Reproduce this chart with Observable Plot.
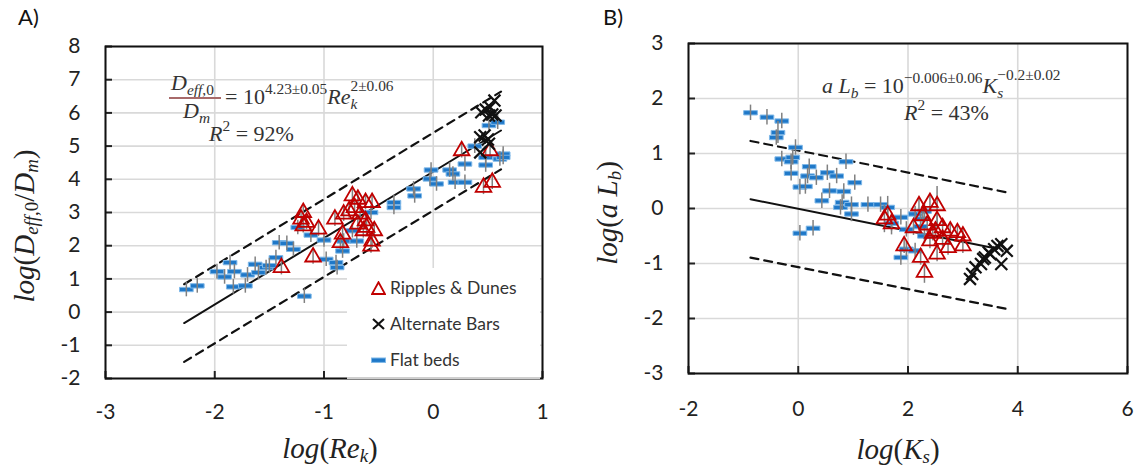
<!DOCTYPE html>
<html>
<head>
<meta charset="utf-8">
<script src="https://cdn.jsdelivr.net/npm/d3@7"></script>
<script src="https://cdn.jsdelivr.net/npm/@observablehq/plot@0.6"></script>
<style>
  body { margin: 0; background: #fff; }
  #fig { position: relative; width: 1143px; height: 469px; overflow: hidden; font-family: Lato, "Open Sans", sans-serif; }
  .panel { position: absolute; top: 0; }
  .lbl { position: absolute; white-space: nowrap; line-height: 1; }
  .tag { font-size: 22px; color: #111; }
  .math { font-family: "Liberation Serif", "DejaVu Serif", serif; color: #333; font-size: 22px; }
  .math i { font-style: italic; }
  .math sup { font-size: 0.7em; line-height: 0; vertical-align: baseline; position: relative; top: -0.62em; }
  .math sub { font-size: 0.7em; line-height: 0; vertical-align: baseline; position: relative; top: 0.3em; }
  /* stacked superscript over subscript */
  .stk { position: relative; display: inline-block; height: 1em; font-size: 0.7em; vertical-align: baseline; }
  .stk > span { position: absolute; left: 0; line-height: 1; white-space: nowrap; }
  .stk > .up { top: -0.72em; }
  .stk > .dn { top: 0.46em; }
  .axt { font-family: "Liberation Serif", "DejaVu Serif", serif; font-size: 29px; color: #222; }
  .axt i { font-style: italic; }
  .axt sub { font-size: 0.65em; line-height: 0; vertical-align: baseline; position: relative; top: 0.22em; }
  .rot { transform: translate(-50%, -50%) rotate(-90deg); }
  .ctr { transform: translate(-50%, -50%); }
  #legend { position: absolute; left: 347px; top: 268px; width: 193px; height: 109px; background: #fff; border-bottom: 2px solid #cfcfcf; }
  #legend .row { position: absolute; left: 24px; font-size: 17.5px; color: #333; display: flex; align-items: center; }
  #legend svg { margin-right: 4px; }
</style>
</head>
<body>
<div id="fig"></div>
<script>
// ---- Panel A: log(Deff,0/Dm) against log(Re_k) ----
const xTicksA = [-3, -2, -1, 0, 1];
const yTicksA = [-2, -1, 0, 1, 2, 3, 4, 5, 6, 7, 8];

// [log Re_k, log(Deff,0/Dm), half error bar (optional)]
const flatA = [
  [-2.26, 0.68], [-2.16, 0.79], [-1.98, 1.22], [-1.91, 1.06], [-1.86, 1.49], [-1.82, 1.22],
  [-1.83, 0.76], [-1.70, 1.12], [-1.72, 0.79], [-1.63, 1.44], [-1.60, 1.19], [-1.53, 1.34],
  [-1.50, 1.40], [-1.44, 1.64], [-1.41, 2.09], [-1.34, 2.07], [-1.28, 1.89], [-1.24, 2.55],
  [-1.12, 2.32], [-1.18, 0.48], [-1.00, 2.17], [-0.98, 1.59], [-0.89, 1.49], [-0.88, 1.34],
  [-0.83, 1.84], [-0.82, 2.14], [-0.74, 2.45], [-0.70, 2.14], [-0.57, 3.00], [-0.36, 3.30],
  [-0.36, 3.15], [-0.18, 3.71], [-0.17, 3.50], [-0.02, 4.28], [0.03, 3.86], [-0.03, 4.01],
  [0.15, 4.28], [0.20, 3.91], [0.18, 4.16], [0.29, 3.91], [0.29, 4.46], [0.38, 5.00],
  [0.48, 4.66], [0.48, 4.43], [0.51, 5.62], [0.59, 5.72], [0.61, 4.61], [0.64, 4.76], [0.64, 4.66]
];
const ripplesA = [
  [-1.39, 1.34], [-1.21, 2.80], [-1.19, 3.00], [-1.16, 2.70], [-1.19, 2.60], [-1.05, 2.50],
  [-1.10, 1.66], [-0.90, 2.80], [-0.85, 2.09], [-0.83, 2.35], [-0.82, 2.95], [-0.77, 3.05],
  [-0.74, 3.50], [-0.72, 3.15], [-0.69, 3.40], [-0.69, 2.65], [-0.67, 2.95], [-0.64, 2.45],
  [-0.62, 3.30], [-0.62, 2.75], [-0.61, 2.55], [-0.56, 3.30], [-0.54, 2.45], [-0.56, 2.14],
  [-0.57, 1.99], [0.26, 4.86], [0.46, 3.76], [0.54, 3.91], [0.52, 4.86]
];
const barsA = [
  [0.44, 6.02], [0.56, 6.37], [0.52, 6.17], [0.51, 5.92], [0.57, 5.92], [0.48, 6.10],
  [0.43, 5.27], [0.47, 5.32], [0.51, 5.07], [0.43, 4.81], [0.50, 5.20], [0.54, 5.95]
];
// fitted power law: log(Deff,0/Dm) = 4.23 + 2 log(Re_k), with prediction band
const fitA = { intercept: 4.23, slope: 2, band: 1.17, from: -2.28, to: 0.62 };
const errA = 0.22;

// ---- Panel B: log(a Lb) against log(K_s) ----
const xTicksB = [-2, 0, 2, 4, 6];
const yTicksB = [-3, -2, -1, 0, 1, 2, 3];

const flatB = [
  [-0.87, 1.74], [-0.57, 1.66], [-0.30, 1.59], [-0.37, 1.38, 0.2], [-0.40, 1.29], [-0.05, 1.11],
  [-0.30, 0.90], [-0.13, 0.85], [-0.10, 0.93], [-0.13, 0.64], [0.20, 0.76], [0.87, 0.85],
  [0.17, 0.59], [0.33, 0.56], [0.53, 0.65], [0.70, 0.59], [1.03, 0.47], [0.03, 0.39],
  [0.13, 0.40], [0.57, 0.32], [0.83, 0.31], [0.43, 0.14], [0.80, 0.11], [0.77, 0.02],
  [0.97, 0.07], [0.97, -0.10], [1.27, 0.07], [1.50, 0.07], [1.63, 0.02, 0.2], [0.03, -0.45],
  [0.27, -0.36], [1.70, -0.27], [1.87, -0.16], [1.97, -0.38], [2.13, -0.10], [2.23, -0.19],
  [2.30, -0.05], [2.23, -0.33], [1.97, -0.74], [2.13, -0.77], [1.87, -0.89], [2.30, -0.50]
];
const ripplesB = [
  [1.57, -0.19, 0.25], [1.63, -0.12], [2.20, 0.05], [2.40, 0.11], [2.53, 0.05, 0.35], [2.27, -0.13],
  [2.53, -0.22], [2.63, -0.35], [2.77, -0.41], [2.90, -0.44], [3.00, -0.50], [3.00, -0.68],
  [2.73, -0.71], [2.53, -0.83], [2.40, -0.59], [2.23, -0.89], [1.93, -0.68], [2.30, -1.16, 0.2],
  [2.10, -0.35], [2.50, -0.41], [2.63, -0.56], [1.70, -0.28, 0.2], [2.35, -0.30], [2.45, -0.45]
];
const barsB = [
  [3.13, -1.28], [3.17, -1.19], [3.23, -1.07], [3.33, -1.01], [3.40, -0.89], [3.47, -0.80],
  [3.57, -0.74], [3.63, -0.68], [3.70, -0.65], [3.80, -0.77], [3.70, -1.01], [3.50, -0.83], [3.37, -0.92]
];
// fitted power law: log(a Lb) = -0.006 - 0.2 log(K_s), with prediction band
const fitB = { intercept: -0.006, slope: -0.2, band: 1.06, from: -0.87, to: 3.63, bandTo: 3.8 };
const errB = 0.14;

// ---- styling ----
const BLUE = "#1f78c8", RED = "#c00000", GRID = "#d9d9d9", ERR = "#808080";

// horizontal bar symbol used for the flat-bed runs
const dash = {
  draw(ctx, size) {
    const r = Math.sqrt(size / Math.PI);
    ctx.moveTo(-1.9 * r, -0.6 * r);
    ctx.lineTo(1.9 * r, -0.6 * r);
    ctx.lineTo(1.9 * r, 0.6 * r);
    ctx.lineTo(-1.9 * r, 0.6 * r);
    ctx.closePath();
  }
};

const rows = (arr, e) => arr.map(([x, y, err]) => ({ x, y, e: err ?? e }));
const fitLine = (f, x0, x1, off = 0) =>
  [x0, x1].map(x => ({ x, y: f.intercept + f.slope * x + off }));

function panel({ width, margins, xDomain, yDomain, xTicks, yTicks, flat, ripples, bars, fit, err, xPad }) {
  const fmt = d => String(d);
  const fl = rows(flat, err), rp = rows(ripples, err), br = rows(bars, err);
  const bandTo = fit.bandTo ?? fit.to;
  return Plot.plot({
    width, height: 469,
    ...margins,
    x: { domain: xDomain },
    y: { domain: yDomain },
    style: { fontFamily: "Lato, 'Open Sans', sans-serif", background: "transparent", overflow: "visible" },
    marks: [
      Plot.gridX(xTicks, { stroke: GRID, strokeOpacity: 1, strokeWidth: 1.6 }),
      Plot.gridY(yTicks, { stroke: GRID, strokeOpacity: 1, strokeWidth: 1.6 }),
      Plot.axisX(xTicks, { tickSize: 0, tickPadding: xPad, tickFormat: fmt, label: null, fontSize: 21, fill: "#222" }),
      Plot.axisY(yTicks, { tickSize: 0, tickPadding: 25, tickFormat: fmt, label: null, fontSize: 21, fill: "#222" }),
      Plot.axisY(yTicks, { tickSize: -7, tickFormat: () => "", label: null, stroke: "#222", strokeWidth: 2 }),
      Plot.axisX(xTicks, { tickSize: -7, tickFormat: () => "", label: null, stroke: "#222", strokeWidth: 2 }),
      Plot.line(fitLine(fit, fit.from, bandTo, fit.band), { x: "x", y: "y", stroke: "#111", strokeWidth: 2.2, strokeDasharray: "8,6" }),
      Plot.line(fitLine(fit, fit.from, bandTo, -fit.band), { x: "x", y: "y", stroke: "#111", strokeWidth: 2.2, strokeDasharray: "8,6" }),
      Plot.line(fitLine(fit, fit.from, fit.to), { x: "x", y: "y", stroke: "#111", strokeWidth: 2 }),
      Plot.dot(fl, { x: "x", y: "y", r: 3.6, symbol: dash, fill: BLUE, stroke: "#7fb8e8", strokeWidth: 1 }),
      Plot.ruleX(fl, { x: "x", y1: d => d.y - d.e, y2: d => d.y + d.e, stroke: ERR, strokeWidth: 1.5 }),
      Plot.ruleX(rp, { x: "x", y1: d => d.y - d.e, y2: d => d.y + d.e, stroke: ERR, strokeWidth: 1.5 }),
      Plot.dot(rp, { x: "x", y: "y", r: 5.8, symbol: "triangle", fill: "none", stroke: RED, strokeWidth: 1.8 }),
      Plot.dot(br, { x: "x", y: "y", r: 5.5, symbol: "times", stroke: "#111", strokeWidth: 2.2 }),
      Plot.frame({ stroke: "#111", strokeWidth: 2 })
    ]
  });
}

const fig = document.getElementById("fig");

const plotA = panel({
  width: 571,
  margins: { marginLeft: 105, marginRight: 29, marginTop: 46, marginBottom: 91 },
  xDomain: [-3, 1], yDomain: [-2, 8], xTicks: xTicksA, yTicks: yTicksA,
  flat: flatA, ripples: ripplesA, bars: barsA, fit: fitA, err: errA, xPad: 26
});
plotA.classList.add("panel");
plotA.style.left = "0px";
fig.appendChild(plotA);

const plotB = panel({
  width: 572,
  margins: { marginLeft: 117, marginRight: 16, marginTop: 43, marginBottom: 96 },
  xDomain: [-2, 6], yDomain: [-3, 3], xTicks: xTicksB, yTicks: yTicksB,
  flat: flatB, ripples: ripplesB, bars: barsB, fit: fitB, err: errB, xPad: 28
});
plotB.classList.add("panel");
plotB.style.left = "571px";
fig.appendChild(plotB);

// ---- text: panel tags, fit equations, axis titles, legend ----
fig.insertAdjacentHTML("beforeend", `
  <div class="lbl tag" style="left:18px;top:6px;">A)</div>
  <div class="lbl tag" style="left:603px;top:6px;">B)</div>

  <div class="lbl math" style="left:171px;top:72px;"><i>D</i><sub><i>eff</i>,0</sub></div>
  <div style="position:absolute;left:169px;top:97px;width:52px;height:1.5px;background:#a86a6a;"></div>
  <div class="lbl math" style="left:183px;top:100px;"><i>D</i><sub><i>m</i></sub></div>
  <div class="lbl math" style="left:225px;top:86px;">= 10<sup>4.23±0.05</sup><i>Re</i><span class="stk"><span class="up">2±0.06</span><span class="dn"><i>k</i></span></span></div>
  <div class="lbl math" style="left:209px;top:123px;"><i>R</i><sup>2</sup> = 92%</div>

  <div class="lbl math" style="left:822px;top:75px;"><i>a L</i><sub><i>b</i></sub> = 10<sup>−0.006±0.06</sup><i>K</i><span class="stk"><span class="up">−0.2±0.02</span><span class="dn"><i>s</i></span></span></div>
  <div class="lbl math" style="left:904px;top:102px;"><i>R</i><sup>2</sup> = 43%</div>

  <div class="lbl axt ctr" style="left:330px;top:448px;"><i>log</i>(<i>Re</i><sub><i>k</i></sub>)</div>
  <div class="lbl axt rot" style="left:24px;top:226px;"><i>log</i>(<i>D</i><sub><i>eff</i>,0</sub>/<i>D</i><sub><i>m</i></sub>)</div>
  <div class="lbl axt ctr" style="left:898px;top:449px;"><i>log</i>(<i>K</i><sub><i>s</i></sub>)</div>
  <div class="lbl axt rot" style="left:607px;top:213px;"><i>log</i>(<i>a L</i><sub><i>b</i></sub>)</div>

  <div id="legend">
    <div class="row" style="top:9px;"><svg width="15" height="14"><path d="M7.5 1.2 L14 13 L1 13 Z" fill="none" stroke="${RED}" stroke-width="1.8"/></svg>Ripples &amp; Dunes</div>
    <div class="row" style="top:45px;"><svg width="15" height="14"><path d="M2 2 L13 12 M13 2 L2 12" stroke="#111" stroke-width="2.2"/></svg>Alternate Bars</div>
    <div class="row" style="top:81px;"><svg width="15" height="14"><rect x="0.5" y="5" width="14" height="4.4" fill="${BLUE}" stroke="#7fb8e8" stroke-width="1"/></svg>Flat beds</div>
  </div>
`);

// give each stacked script block the width of its wider line
document.querySelectorAll(".stk").forEach(s => {
  const w = Math.max(...[...s.children].map(c => c.getBoundingClientRect().width));
  s.style.width = `${Math.ceil(w)}px`;
});
</script>
</body>
</html>
